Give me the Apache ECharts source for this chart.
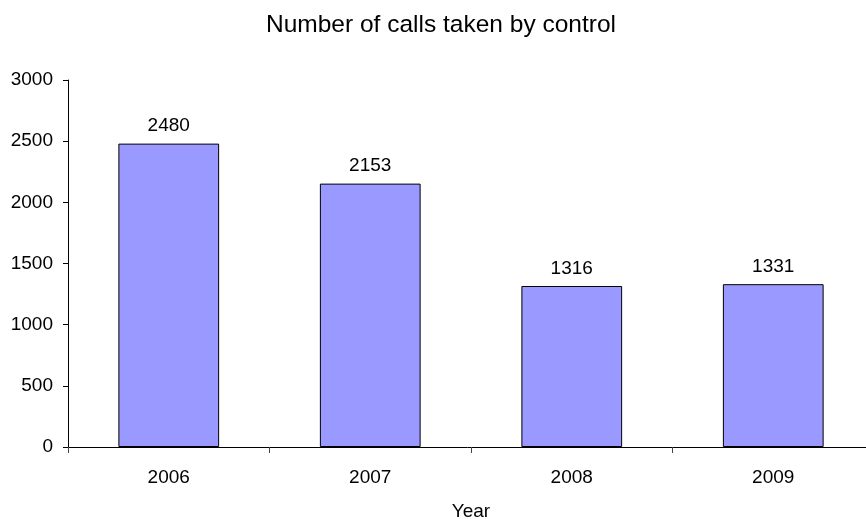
<!DOCTYPE html>
<html><head><meta charset="utf-8">
<script src="https://cdn.jsdelivr.net/npm/echarts@6/dist/echarts.min.js"></script>
<style>html,body{margin:0;padding:0;background:#fff}#c{width:866px;height:519px}</style>
</head><body><div id="c"></div>
<script>
const categories = ['2006', '2007', '2008', '2009'];
const calls = [2480, 2153, 1316, 1331];
const yTicks = [0, 500, 1000, 1500, 2000, 2500, 3000];

const font = '"Liberation Sans", Arial, sans-serif';
const chart = echarts.init(document.getElementById('c'), null, {renderer: 'canvas'});
chart.setOption({
  animation: false,
  backgroundColor: '#fff',
  title: {
    text: 'Number of calls taken by control',
    left: 436, top: 8, textAlign: 'center',
    textStyle: {fontFamily: font, fontSize: 24.5, fontWeight: 'normal', color: '#000'}
  },
  grid: {left: 68, top: 80, width: 806, bottom: 72, containLabel: false, outerBoundsMode: 'none'},
  xAxis: {
    type: 'category', data: categories,
    name: 'Year', nameLocation: 'middle', nameGap: 55,
    nameTextStyle: {fontFamily: font, fontSize: 19, color: '#000'},
    axisLine: {lineStyle: {color: '#000', width: 1}},
    axisTick: {show: true, length: 6, alignWithLabel: false, lineStyle: {color: '#444'}},
    axisLabel: {margin: 21, fontFamily: font, fontSize: 19, color: '#000'}
  },
  yAxis: {
    type: 'value', min: yTicks[0], max: yTicks[yTicks.length - 1], interval: 500,
    axisLine: {show: true, lineStyle: {color: '#000', width: 1}},
    axisTick: {show: true, length: 5, lineStyle: {color: '#000'}},
    splitLine: {show: false},
    axisLabel: {margin: 15, fontFamily: font, fontSize: 19, color: '#000', formatter: v => String(v)}
  },
  series: [{
    type: 'bar', data: calls, barWidth: '50%',
    itemStyle: {color: '#9999FF', borderColor: '#000', borderWidth: 1},
    label: {show: true, position: 'top', distance: 8, fontFamily: font, fontSize: 19, color: '#000'}
  }]
});
</script></body></html>
